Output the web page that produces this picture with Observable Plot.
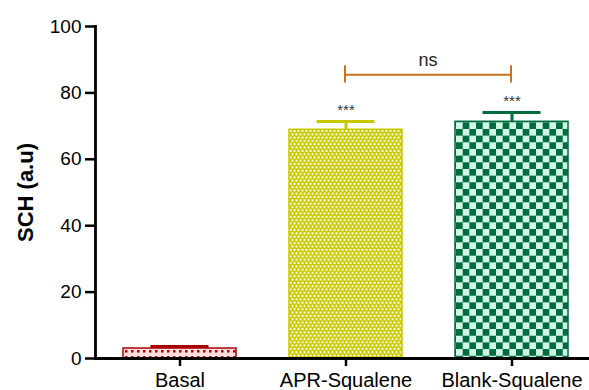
<!DOCTYPE html>
<html>
<head>
<meta charset="utf-8">
<script src="https://cdn.jsdelivr.net/npm/d3@7"></script>
<script src="https://cdn.jsdelivr.net/npm/@observablehq/plot@0.6"></script>
<style>
  html, body { margin: 0; padding: 0; background: #fff; }
  #chart svg { display: block; }
</style>
</head>
<body>
<div id="chart"></div>
<script>
// ---- data ----
const categories = ["Basal", "APR-Squalene", "Blank-Squalene"];
const means = [3.0, 68.9, 71.3];
const errors = [0.6, 2.5, 2.8];
const stars = ["", "***", "***"];
const yTicks = [0, 20, 40, 60, 80, 100];
const comparisonFrom = "APR-Squalene";
const comparisonTo = "Blank-Squalene";
const comparisonY = 85.5;
const comparisonTickLow = 83.0;
const comparisonTickHigh = 88.2;
const comparisonLabel = "ns";
const yLabel = "SCH (a.u)";

// ---- styles (kept apart from data) ----
const styles = {
  "Basal": {fill: "url(#pat-basal)", stroke: "#a80000"},
  "APR-Squalene": {fill: "url(#pat-apr)", stroke: "#c8c800"},
  "Blank-Squalene": {fill: "url(#pat-blank)", stroke: "#006b3f"}
};

const data = categories.map((c, i) => ({cat: c, mean: means[i], err: errors[i], star: stars[i]}));
const bracketTicks = [comparisonFrom, comparisonTo];

const font = "'Liberation Sans', Arial, Helvetica, sans-serif";

const plot = Plot.plot({
  width: 589,
  height: 390,
  marginLeft: 95,
  marginRight: 0,
  marginTop: 26,
  marginBottom: 32,
  style: {fontFamily: font, color: "#000", background: "#fff", overflow: "visible"},
  x: {domain: categories, range: [95, 595], paddingInner: 0.32, paddingOuter: 0.166, align: 0.5},
  y: {domain: [0, 100]},
  color: {type: "identity"},
  marks: [
    Plot.barY(data, {x: "cat", y: "mean", fill: d => styles[d.cat].fill, stroke: d => styles[d.cat].stroke, strokeWidth: 1.5}),
    Plot.ruleX(data, {x: "cat", y1: "mean", y2: d => d.mean + d.err, stroke: d => styles[d.cat].stroke, strokeWidth: 3}),
    Plot.tickY(data, {x: "cat", y: d => d.mean + d.err, stroke: d => styles[d.cat].stroke, strokeWidth: 3, inset: 27.5}),
    Plot.text(data, {x: "cat", y: d => d.mean + d.err, text: "star", dy: -11, fontSize: 15, fill: "#333", lineAnchor: "middle"}),
    Plot.link([0], {x1: () => comparisonFrom, x2: () => comparisonTo, y1: () => comparisonY, y2: () => comparisonY, stroke: "#c8741e", strokeWidth: 2, dx: -1}),
    Plot.ruleX(bracketTicks, {x: d => d, y1: () => comparisonTickLow, y2: () => comparisonTickHigh, stroke: "#c8741e", strokeWidth: 2, dx: -1}),
    Plot.text([comparisonLabel], {x: () => comparisonFrom, y: () => comparisonY, text: d => d, dx: 82, dy: -14, fontSize: 18, fill: "#222", lineAnchor: "middle"}),
    Plot.axisY({ticks: yTicks, tickSize: 10, tickPadding: 4, fontSize: 19, strokeWidth: 2.5, label: null}),
    Plot.axisX({tickSize: 8, tickPadding: 6, fontSize: 20, strokeWidth: 2.5, label: null}),
    Plot.frame({anchor: "left", strokeWidth: 2.8}),
    Plot.ruleY([0], {strokeWidth: 2.8}),
    Plot.text([yLabel], {frameAnchor: "left", dx: -70, rotate: -90, text: d => d, fontSize: 22, fontWeight: "bold", textAnchor: "middle", lineAnchor: "middle"})
  ]
});

// pattern definitions
const xs = plot.scale("x");
const ys = plot.scale("y");
const svg = d3.select(plot.tagName.toLowerCase() === "svg" ? plot : plot.querySelector("svg"));
const defs = svg.insert("defs", ":first-child");

const basalX = xs.apply("Basal");
const basalTop = ys.apply(means[0]);
const pb = defs.append("pattern").attr("id", "pat-basal").attr("patternUnits", "userSpaceOnUse")
  .attr("width", 6).attr("height", 6).attr("x", basalX).attr("y", basalTop);
pb.append("rect").attr("width", 6).attr("height", 6).attr("fill", "#ffdede");
pb.append("rect").attr("x", 2).attr("y", 2).attr("width", 2.5).attr("height", 2.5).attr("fill", "#b00000");

const aprX = xs.apply("APR-Squalene");
const aprTop = ys.apply(means[1]);
const pa = defs.append("pattern").attr("id", "pat-apr").attr("patternUnits", "userSpaceOnUse")
  .attr("width", 4).attr("height", 6.6).attr("x", aprX).attr("y", aprTop);
pa.append("rect").attr("width", 4).attr("height", 6.6).attr("fill", "#c8c800");
pa.append("rect").attr("x", 0.5).attr("y", 0.8).attr("width", 2).attr("height", 2).attr("fill", "#ffffff");
pa.append("rect").attr("x", 2.5).attr("y", 4.1).attr("width", 1.5).attr("height", 2).attr("fill", "#ffffff");
pa.append("rect").attr("x", 0).attr("y", 4.1).attr("width", 0.5).attr("height", 2).attr("fill", "#ffffff");

const blankX = xs.apply("Blank-Squalene");
const blankTop = ys.apply(means[2]);
const c = 6.67;
const pg = defs.append("pattern").attr("id", "pat-blank").attr("patternUnits", "userSpaceOnUse")
  .attr("width", 2 * c).attr("height", 2 * c).attr("x", blankX + 1).attr("y", blankTop + 1);
pg.append("rect").attr("width", 2 * c).attr("height", 2 * c).attr("fill", "#006b3f");
pg.append("rect").attr("x", 0).attr("y", 0).attr("width", c).attr("height", c).attr("fill", "#d0f7e6");
pg.append("rect").attr("x", c).attr("y", c).attr("width", c).attr("height", c).attr("fill", "#d0f7e6");

document.getElementById("chart").appendChild(plot);
</script>
</body>
</html>
